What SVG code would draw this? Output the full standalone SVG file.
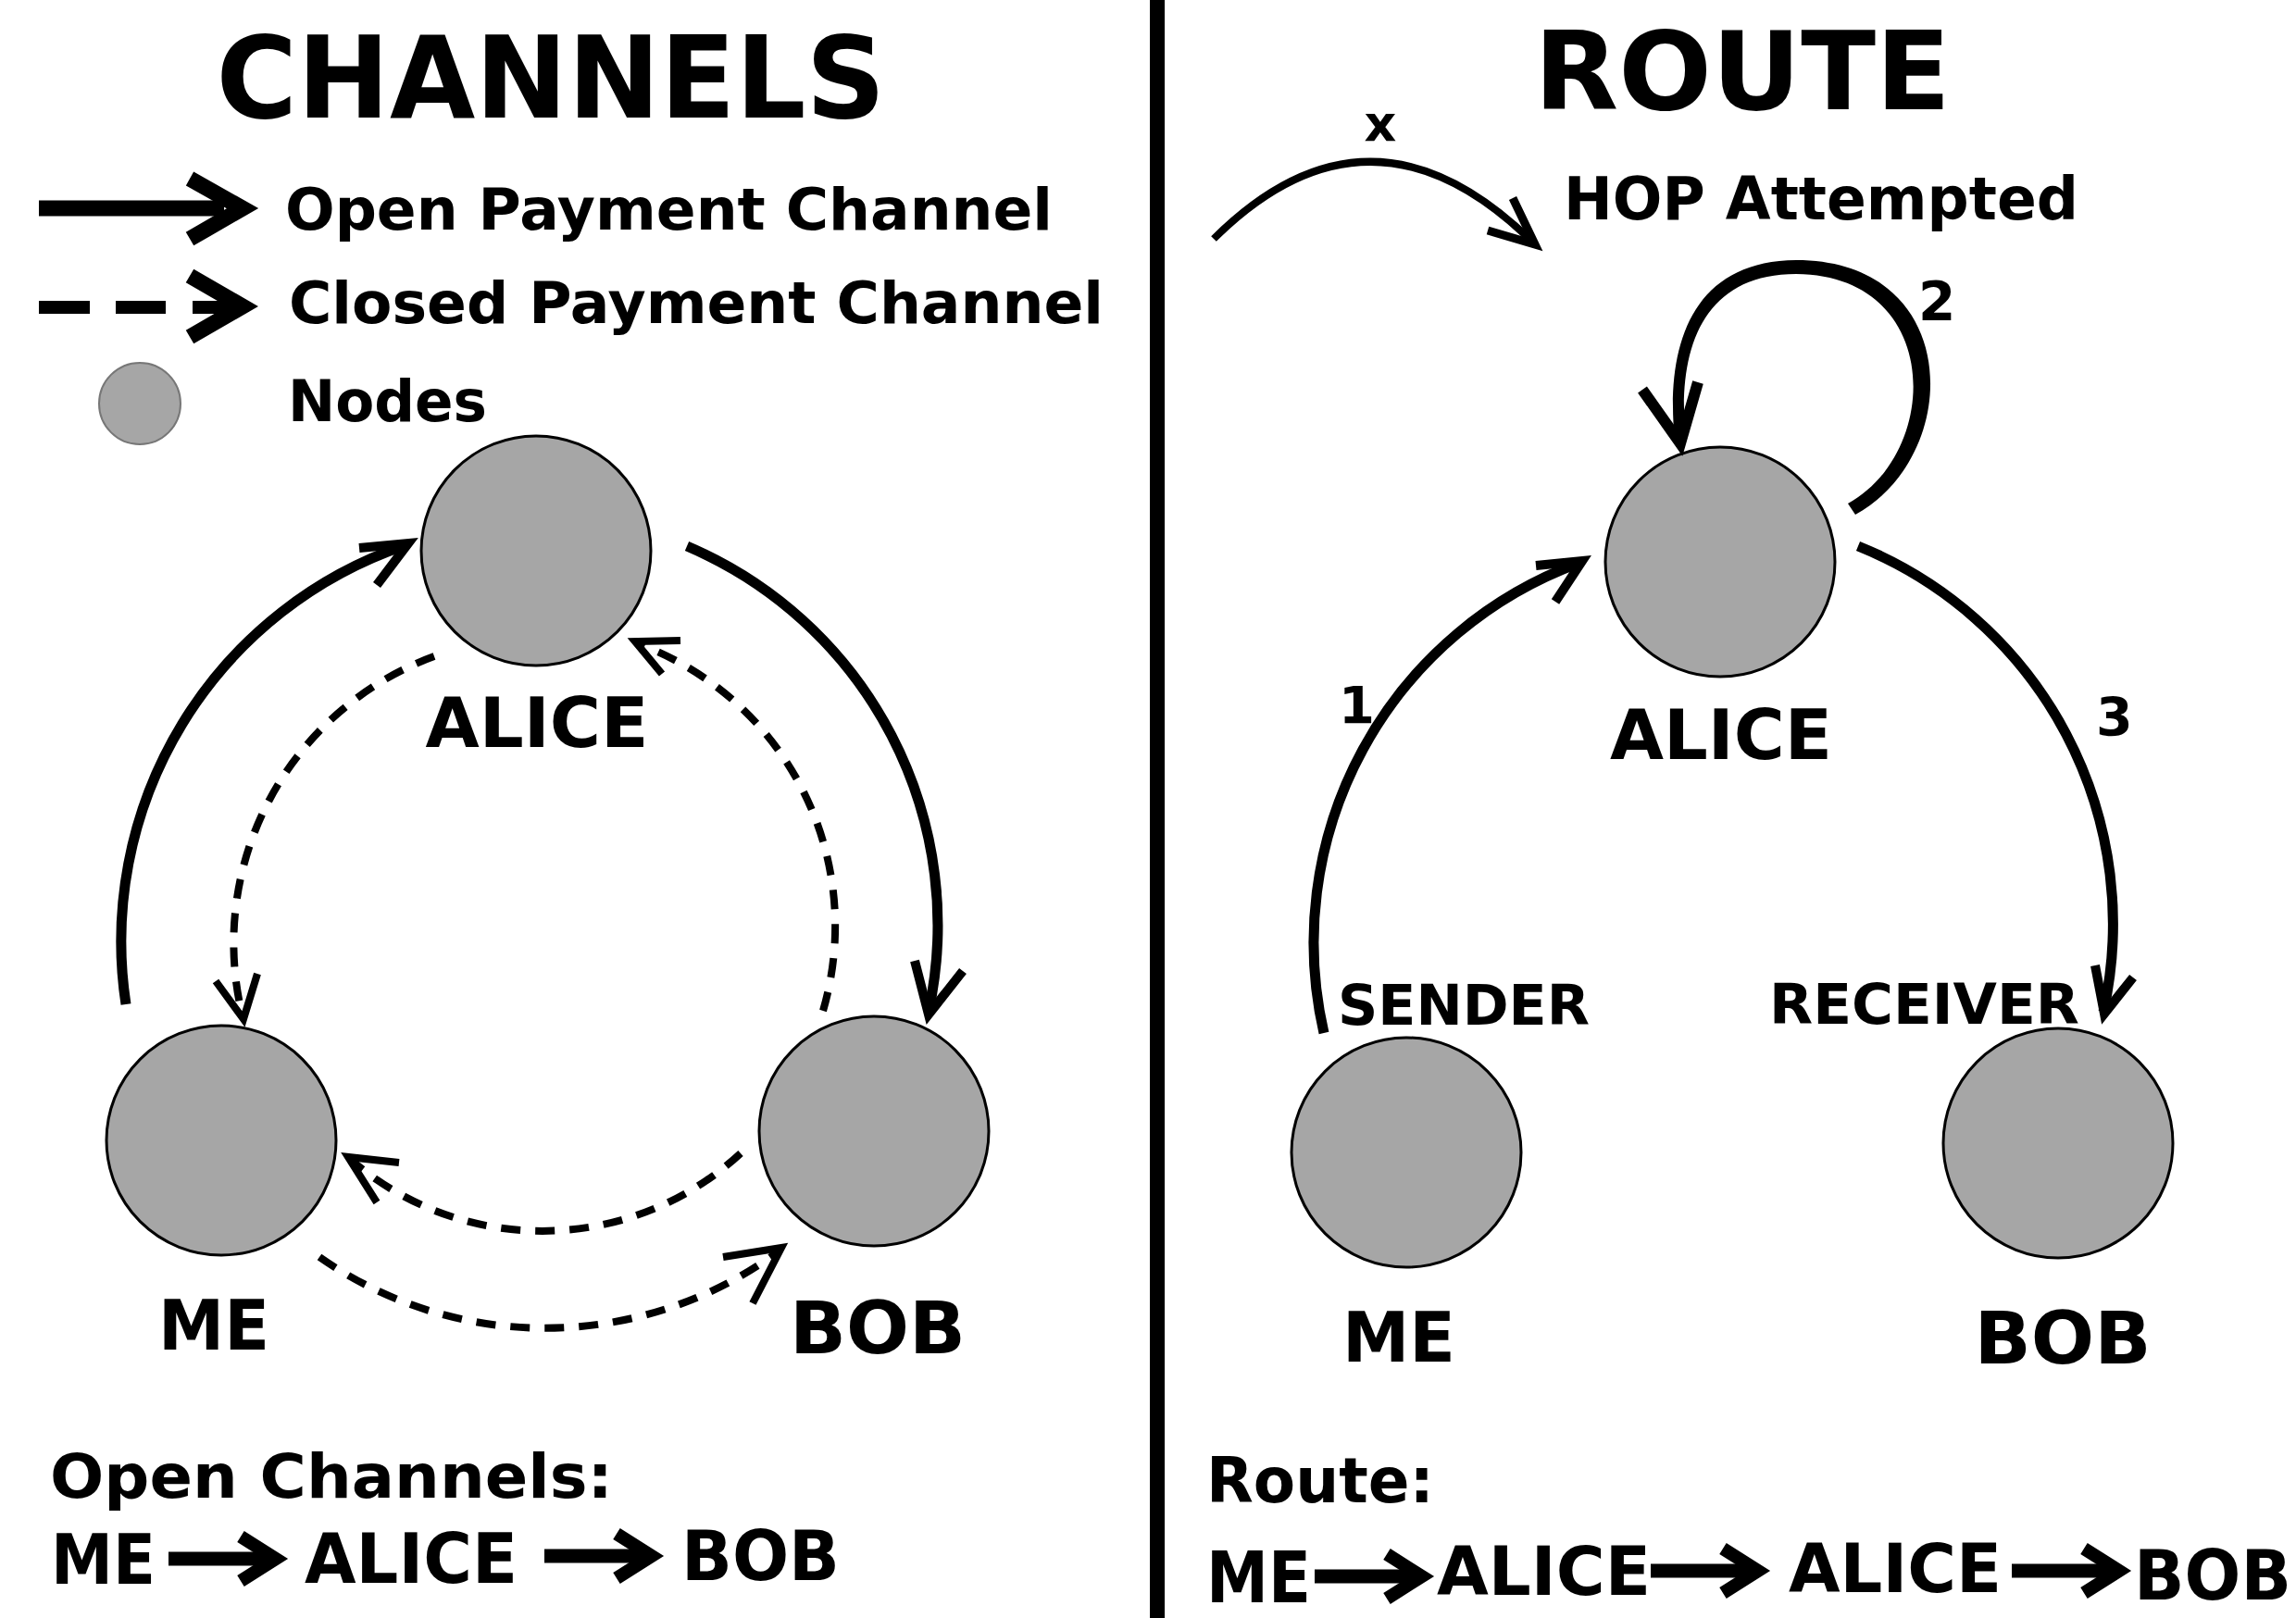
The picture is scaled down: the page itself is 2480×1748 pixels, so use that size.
<svg xmlns="http://www.w3.org/2000/svg" width="2480" height="1748" viewBox="0 0 2480 1748">
<style>
.t{font-family:"DejaVu Sans","Verdana","Liberation Sans",sans-serif;font-weight:bold;fill:#000}
.node{fill:#a6a6a6;stroke:#000;stroke-width:3}
.solid{fill:none;stroke:#000;stroke-width:11}
.dash{fill:none;stroke:#000;stroke-width:8;stroke-dasharray:21 16}
.head{fill:none;stroke:#000;stroke-width:10;stroke-linejoin:miter;stroke-miterlimit:3;stroke-linecap:butt}
.headd{fill:none;stroke:#000;stroke-width:8;stroke-linejoin:miter;stroke-miterlimit:3;stroke-linecap:butt}
</style>
<defs>
<g id="rowArrow">
<rect x="0" y="-7.5" width="110" height="15" fill="#000"/>
<polyline points="78,-24 116,0 78,24" fill="none" stroke="#000" stroke-width="14" stroke-linejoin="miter" stroke-miterlimit="10"/>
</g>
</defs>

<rect x="0" y="0" width="2480" height="1748" fill="#fff"/>
<rect id="divider" x="1242" y="0" width="16" height="1748" fill="#000"/>

<!-- Titles -->
<text class="t" x="595" y="127" font-size="123" text-anchor="middle" textLength="723" lengthAdjust="spacingAndGlyphs">CHANNELS</text>
<text class="t" x="1882" y="118" font-size="118" text-anchor="middle" textLength="450" lengthAdjust="spacingAndGlyphs">ROUTE</text>

<!-- Legend -->
<g id="legend">
<rect x="42" y="216.5" width="200" height="17" fill="#000"/>
<polyline points="205,193 262,225 205,258" fill="none" stroke="#000" stroke-width="17" stroke-linejoin="miter" stroke-miterlimit="10"/>
<text class="t" x="308" y="248" font-size="62" textLength="829" lengthAdjust="spacingAndGlyphs">Open Payment Channel</text>
<rect x="42" y="325" width="55" height="14" fill="#000"/>
<rect x="125" y="325" width="54" height="14" fill="#000"/>
<rect x="208" y="325" width="40" height="14" fill="#000"/>
<polyline points="205,298 262,331 205,364" fill="none" stroke="#000" stroke-width="17" stroke-linejoin="miter" stroke-miterlimit="10"/>
<text class="t" x="312" y="349" font-size="62" textLength="880" lengthAdjust="spacingAndGlyphs">Closed Payment Channel</text>
<circle cx="151" cy="436" r="44" fill="#a6a6a6" stroke="#777" stroke-width="2"/>
<text class="t" x="311" y="455" font-size="62" textLength="215" lengthAdjust="spacingAndGlyphs">Nodes</text>
</g>

<!-- Left graph nodes -->
<g id="ch-alice">
<circle class="node" cx="579" cy="595" r="124"/>
<text class="t" x="580" y="807" font-size="75" text-anchor="middle" textLength="241" lengthAdjust="spacingAndGlyphs">ALICE</text>
</g>
<g id="ch-me">
<circle class="node" cx="239" cy="1232" r="124"/>
<text class="t" x="231" y="1458" font-size="75" text-anchor="middle" textLength="120" lengthAdjust="spacingAndGlyphs">ME</text>
</g>
<g id="ch-bob">
<circle class="node" cx="944" cy="1222" r="124"/>
<text class="t" x="948" y="1462" font-size="78" text-anchor="middle" textLength="190" lengthAdjust="spacingAndGlyphs">BOB</text>
</g>

<!-- Right graph nodes -->
<g id="rt-alice">
<circle class="node" cx="1858" cy="607" r="124"/>
<text class="t" x="1859" y="820" font-size="75" text-anchor="middle" textLength="240" lengthAdjust="spacingAndGlyphs">ALICE</text>
</g>
<g id="rt-me">
<circle class="node" cx="1519" cy="1245" r="124"/>
<text class="t" x="1445" y="1107" font-size="60" textLength="272" lengthAdjust="spacingAndGlyphs">SENDER</text>
<text class="t" x="1511" y="1471" font-size="75" text-anchor="middle" textLength="122" lengthAdjust="spacingAndGlyphs">ME</text>
</g>
<g id="rt-bob">
<circle class="node" cx="2223" cy="1235" r="124"/>
<text class="t" x="1911" y="1106" font-size="60" textLength="335" lengthAdjust="spacingAndGlyphs">RECEIVER</text>
<text class="t" x="2228" y="1473" font-size="78" text-anchor="middle" textLength="191" lengthAdjust="spacingAndGlyphs">BOB</text>
</g>

<!-- Connectors -->
<g id="connectors">
<!-- ME -> ALICE (open) -->
<path class="solid" d="M136,1085 A452,452 0 0 1 438,589"/>
<polyline class="head" points="388,592 441,587 407,632"/>
<!-- ALICE -> BOB (open) -->
<path class="solid" d="M742,590 A445,445 0 0 1 1003,1093"/>
<polyline class="head" points="988,1038 1003,1096 1040,1049"/>
<!-- ALICE -> ME (closed) -->
<path class="dash" d="M469,709 A330,330 0 0 0 262,1098"/>
<polyline class="headd" points="233,1060 263,1101 278,1052"/>
<!-- BOB -> ALICE (closed) -->
<path class="dash" d="M889,1092 A325,325 0 0 0 688,695"/>
<polyline class="headd" points="735,692 686,693 715,728"/>
<!-- BOB -> ME (closed) -->
<path class="dash" d="M800,1246 A316,316 0 0 1 379,1253"/>
<polyline class="headd" points="431,1256 376,1250 407,1299"/>
<!-- ME -> BOB (closed) -->
<path class="dash" d="M345,1358 A425,425 0 0 0 842,1351"/>
<polyline class="headd" points="781,1358 844,1348 813,1408"/>

<!-- Route hop 1: ME -> ALICE -->
<path class="solid" d="M1430,1116 A437,437 0 0 1 1706,608"/>
<polyline class="head" points="1659,611 1709,606 1680,650"/>
<!-- Route hop 3: ALICE -> BOB -->
<path class="solid" d="M2007,590 A440,440 0 0 1 2272,1093"/>
<polyline class="head" points="2263,1043 2273,1095 2304,1056"/>
<!-- Route hop 2: ALICE -> ALICE loop (tapered stroke) -->
<path d="M2004,556 C2121,492 2121,281 1940,281 C1824,282 1799,378 1809,476 L1821,476 C1811,382 1836,296 1940,296 C2098,297 2098,488 1996,544 Z" fill="#000"/>
<polyline class="head" points="1774,421 1815,479 1834,413" style="stroke-width:12"/>
<!-- HOP attempted legend arc -->
<path class="solid" d="M1311,258 Q1480,90 1655,261" style="stroke-width:8"/>
<polyline class="head" points="1607,249 1658,264 1634,214" style="stroke-width:9"/>
</g>

<!-- Route labels -->
<text class="t" x="1491" y="152" font-size="54" text-anchor="middle">x</text>
<text class="t" x="1689" y="237" font-size="64" textLength="556" lengthAdjust="spacingAndGlyphs">HOP Attempted</text>
<text class="t" x="2072" y="346" font-size="58">2</text>
<text class="t" x="1446" y="781" font-size="56">1</text>
<text class="t" x="2264" y="795" font-size="57">3</text>

<!-- Bottom summaries -->
<g id="summary-left">
<text class="t" x="54" y="1618" font-size="66" textLength="608" lengthAdjust="spacingAndGlyphs">Open Channels:</text>
<text class="t" x="55" y="1711" font-size="75" textLength="113" lengthAdjust="spacingAndGlyphs">ME</text>
<use href="#rowArrow" transform="translate(182,1684)"/>
<text class="t" x="329" y="1710" font-size="75" textLength="230" lengthAdjust="spacingAndGlyphs">ALICE</text>
<use href="#rowArrow" transform="translate(588,1681)"/>
<text class="t" x="736" y="1707" font-size="75" textLength="171" lengthAdjust="spacingAndGlyphs">BOB</text>
</g>
<g id="summary-right">
<text class="t" x="1303" y="1623" font-size="68" textLength="246" lengthAdjust="spacingAndGlyphs">Route:</text>
<text class="t" x="1303" y="1731" font-size="76" textLength="113" lengthAdjust="spacingAndGlyphs">ME</text>
<use href="#rowArrow" transform="translate(1420,1703)"/>
<text class="t" x="1552" y="1723" font-size="73" textLength="231" lengthAdjust="spacingAndGlyphs">ALICE</text>
<use href="#rowArrow" transform="translate(1783,1697)"/>
<text class="t" x="1932" y="1720" font-size="73" textLength="230" lengthAdjust="spacingAndGlyphs">ALICE</text>
<use href="#rowArrow" transform="translate(2173,1697)"/>
<text class="t" x="2305" y="1728" font-size="75" textLength="170" lengthAdjust="spacingAndGlyphs">BOB</text>
</g>
</svg>
